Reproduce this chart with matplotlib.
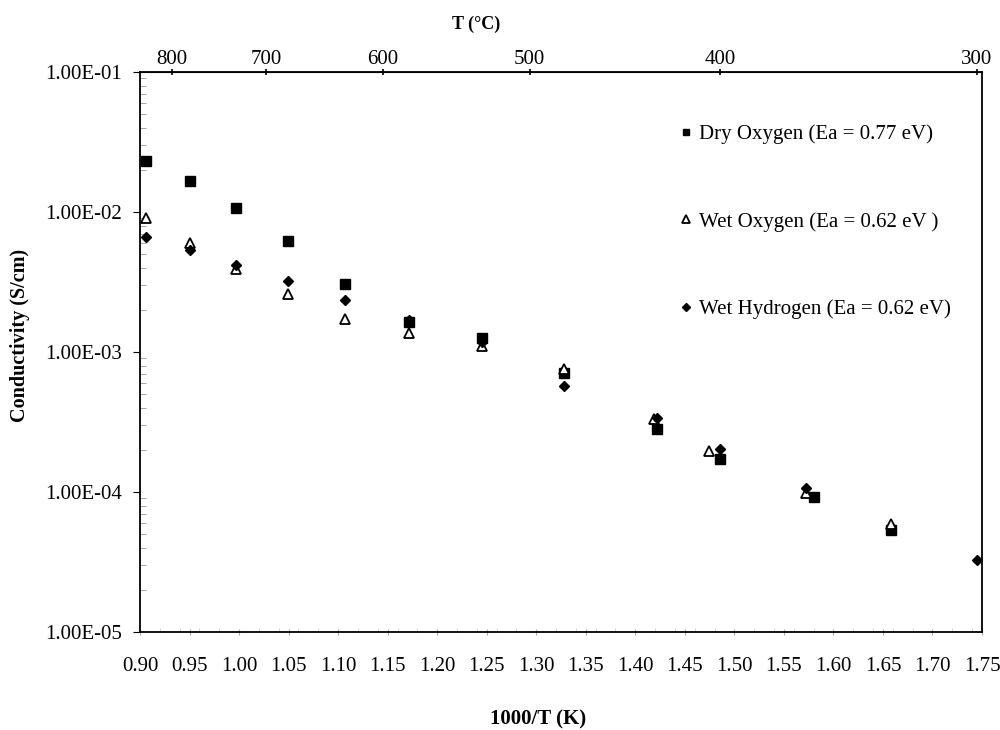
import matplotlib
matplotlib.use('Agg')
import matplotlib.pyplot as plt
from matplotlib.ticker import FixedLocator, MultipleLocator, FuncFormatter, LogLocator, NullFormatter

plt.rcParams['font.family'] = ['Liberation Serif', 'DejaVu Serif']

# --- data (x = 1000/T in K^-1, y = conductivity in S/cm) ---
dry_x = [0.906, 0.950, 0.997, 1.049, 1.107, 1.172, 1.245, 1.328, 1.422, 1.486, 1.580, 1.658]
dry_y = [2.31e-2, 1.66e-2, 1.07e-2, 6.24e-3, 3.05e-3, 1.64e-3, 1.25e-3, 7.05e-4, 2.81e-4, 1.71e-4, 9.27e-5, 5.36e-5]

wet_o2_x = [0.906, 0.950, 0.997, 1.049, 1.107, 1.172, 1.245, 1.328, 1.419, 1.474, 1.572, 1.658]
wet_o2_y = [9.1e-3, 6.04e-3, 3.92e-3, 2.60e-3, 1.71e-3, 1.37e-3, 1.10e-3, 7.57e-4, 3.30e-4, 1.96e-4, 9.8e-5, 5.87e-5]

wet_h2_x = [0.906, 0.950, 0.997, 1.049, 1.107, 1.172, 1.245, 1.328, 1.422, 1.486, 1.572, 1.745]
wet_h2_y = [6.63e-3, 5.32e-3, 4.18e-3, 3.20e-3, 2.37e-3, 1.69e-3, 1.18e-3, 5.71e-4, 3.36e-4, 2.02e-4, 1.06e-4, 3.27e-5]

labels = ['Dry Oxygen (Ea = 0.77 eV)', 'Wet Oxygen (Ea = 0.62 eV )', 'Wet Hydrogen (Ea = 0.62 eV)']
x_ticks = [0.90, 0.95, 1.00, 1.05, 1.10, 1.15, 1.20, 1.25, 1.30, 1.35, 1.40, 1.45, 1.50, 1.55, 1.60, 1.65, 1.70, 1.75]
top_ticks = [800, 700, 600, 500, 400, 300]

fig = plt.figure(figsize=(10, 7.3), dpi=100)
ax = fig.add_axes([0.14, 0.1342, 0.842, 0.7672])

ax.plot(dry_x, dry_y, 's', color='black', markersize=6.5, linestyle='none', label=labels[0])
ax.plot(wet_o2_x, wet_o2_y, '^', markerfacecolor='white', markeredgecolor='black',
        markeredgewidth=1.3, markersize=7, linestyle='none', label=labels[1])
ax.plot(wet_h2_x, wet_h2_y, 'D', color='black', markersize=5, linestyle='none', label=labels[2])

ax.set_yscale('log')
ax.set_xlim(0.90, 1.75)
ax.set_ylim(1e-5, 1e-1)

ax.xaxis.set_major_locator(FixedLocator(x_ticks))
ax.xaxis.set_major_formatter(FuncFormatter(lambda v, p: f'{v:.2f}'))
ax.xaxis.set_minor_locator(MultipleLocator(0.02))
ax.tick_params(axis='x', which='major', direction='inout', length=5, color='#aaaaaa',
               labelsize=15, pad=15.5)
ax.tick_params(axis='x', which='minor', direction='in', length=3, color='#cccccc')

ax.yaxis.set_major_locator(LogLocator(base=10, numticks=10))
ax.yaxis.set_major_formatter(FuncFormatter(lambda v, p: f'{v:.2E}'))
ax.yaxis.set_minor_locator(LogLocator(base=10, subs=range(2, 10), numticks=20))
ax.yaxis.set_minor_formatter(NullFormatter())
ax.tick_params(axis='y', which='major', direction='out', length=5, labelsize=15, pad=8)
ax.tick_params(axis='y', which='minor', direction='in', length=4, color='#999999')

for s in ax.spines.values():
    s.set_linewidth(1.3)

# top axis in degrees C
top = ax.secondary_xaxis('top', functions=(lambda x: 1000.0 / x - 273.15,
                                           lambda t: 1000.0 / (t + 273.15)))
top.xaxis.set_major_locator(FixedLocator(top_ticks))
top.tick_params(direction='inout', length=5, width=1.2, labelsize=15, pad=0)

ax.legend(loc='upper left', bbox_to_anchor=(0.629, 0.921), frameon=False, fontsize=15,
          markerscale=0.75, handlelength=0.8, handletextpad=0.2, labelspacing=3.25,
          borderaxespad=0)

fig.text(0.476, 0.966, 'T (°C)', ha='center', va='center', fontsize=13, fontweight='bold')
fig.text(0.538, 0.014, '1000/T (K)', ha='center', va='center', fontsize=15, fontweight='bold')
fig.text(0.020, 0.541, 'Conductivity (S/cm)', ha='center', va='center', rotation=90,
         fontsize=14.5, fontweight='bold')

fig.savefig('out.png', dpi=100)
